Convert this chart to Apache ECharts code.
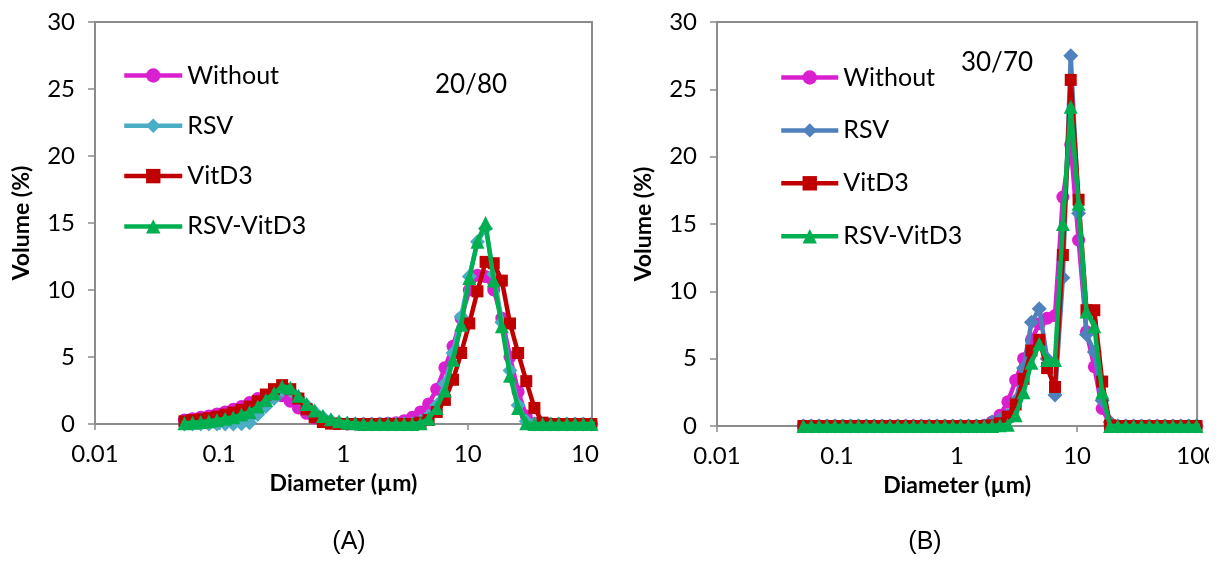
<!DOCTYPE html>
<html>
<head>
<meta charset="utf-8">
<script src="https://cdn.jsdelivr.net/npm/echarts@6/dist/echarts.min.js"></script>
<style>
html,body{margin:0;padding:0;background:#ffffff;}
#chart{width:1221px;height:562px;}
</style>
</head>
<body>
<div id="chart"></div>
<script>
// ---- data ----
const diameters = [0.05248,0.06101,0.07096,0.08252,0.09594,0.1116,0.1297,0.1509,0.1754,0.2040,
  0.2371,0.2758,0.3206,0.3728,0.4335,0.5042,0.5861,0.6817,0.7925,0.9215,
  1.0715,1.2460,1.4488,1.6847,1.9588,2.2777,2.6485,3.0796,3.5810,4.1640,
  4.8417,5.6300,6.5464,7.6119,8.8512,10.292,11.967,13.915,16.181,18.814,
  21.878,25.439,29.580,34.395,39.994,46.504,54.075,62.877,73.114,85.015,
  98.855,114.95];
const xTickLabels = ['0.01','0.1','1','10','100'];
const seriesNames = ['Without','RSV','VitD3','RSV-VitD3'];
const panelTitles = ['20/80','30/70'];
const captions = ['(A)','(B)'];

// Panel A (20/80)
const aWithout = [0.3,0.4,0.5,0.6,0.75,0.9,1.1,1.3,1.6,1.9,
  2.1,2.2,2.1,1.7,1.2,0.8,0.45,0.2,0.08,0.03,
  0,0,0,0,0.02,0.05,0.1,0.25,0.5,0.9,
  1.5,2.6,4.2,5.8,7.9,10.0,11.1,11.0,10.0,7.9,
  5.0,2.4,0.6,0.05,0,0,0,0,0,0,
  0,0];
const aRSV = [0,0,0,0,0,0,0,0.02,0.1,0.7,
  1.3,1.9,2.5,2.5,2.0,1.4,0.9,0.5,0.25,0.1,
  0.03,0,0,0,0,0,0,0,0,0.2,
  0.6,1.4,3.0,5.3,8.0,11.0,13.6,14.6,11.2,7.6,
  4.0,1.4,0.2,0,0,0,0,0,0,0,
  0,0];
const aVitD3 = [0.2,0.3,0.35,0.45,0.55,0.7,0.85,1.05,1.3,1.7,
  2.2,2.6,2.9,2.6,1.9,1.1,0.5,0.15,0.03,0,
  0,0,0,0,0,0,0,0,0,0.1,
  0.3,0.9,1.8,3.3,5.3,7.5,9.9,12.1,12.0,10.7,
  7.5,5.3,3.2,1.2,0.1,0,0,0,0,0,
  0,0];
const aRSVVitD3 = [0.05,0.1,0.15,0.2,0.3,0.4,0.5,0.7,0.9,1.3,
  1.8,2.3,2.8,2.7,2.1,1.5,1.0,0.6,0.35,0.2,
  0.1,0.05,0,0,0,0,0,0,0,0.05,
  0.4,1.2,2.5,4.8,7.4,10.9,13.6,15.0,10.7,7.3,
  3.6,1.2,0.05,0,0,0,0,0,0,0,
  0,0];

// Panel B (30/70)
const bWithout = [0,0,0,0,0,0,0,0,0,0,
  0,0,0,0,0,0,0,0,0,0,
  0,0,0,0.05,0.3,0.8,1.8,3.4,5.0,6.4,
  7.6,8.0,8.2,17.0,20.9,13.8,7.0,4.4,1.3,0.1,
  0,0,0,0,0,0,0,0,0,0,
  0,0];
const bRSV = [0,0,0,0,0,0,0,0,0,0,
  0,0,0,0,0,0,0,0,0,0,
  0,0,0,0,0.3,0.5,0.8,1.9,4.3,7.7,
  8.7,5.0,2.3,11.0,27.5,15.8,6.8,5.5,1.9,0.3,
  0,0,0,0,0,0,0,0,0,0,
  0,0];
const bVitD3 = [0,0,0,0,0,0,0,0,0,0,
  0,0,0,0,0,0,0,0,0,0,
  0,0,0,0,0.05,0.2,0.7,1.6,3.5,5.6,
  6.4,4.3,2.9,12.7,25.7,16.8,8.6,8.6,3.3,0.05,
  0,0,0,0,0,0,0,0,0,0,
  0,0];
const bRSVVitD3 = [0,0,0,0,0,0,0,0,0,0,
  0,0,0,0,0,0,0,0,0,0,
  0,0,0,0,0,0.05,0.1,0.8,2.5,4.7,
  6.1,4.9,4.9,15.0,23.7,16.5,8.5,7.4,2.5,0,
  0,0,0,0,0,0,0,0,0,0,
  0,0];

// ---- styling ----
const FONT = 'Lato, "Open Sans", sans-serif';
const AXIS_GRAY = '#8c8c8c';
const stylesA = [
  {color:'#DA1FD0', symbol:'circle',   size:13},
  {color:'#4BACC6', symbol:'diamond',  size:15},
  {color:'#C00000', symbol:'rect',     size:12},
  {color:'#00B050', symbol:'triangle', size:14}
];
const stylesB = [
  {color:'#DA1FD0', symbol:'circle',   size:13},
  {color:'#4F81BD', symbol:'diamond',  size:15},
  {color:'#C00000', symbol:'rect',     size:12},
  {color:'#00B050', symbol:'triangle', size:14}
];
const panelData = [
  [aWithout, aRSV, aVitD3, aRSVVitD3],
  [bWithout, bRSV, bVitD3, bRSVVitD3]
];
const panelStyles = [stylesA, stylesB];

const grids = [
  {left:95, top:22, width:497, height:402},
  {left:717, top:22, width:486, height:404}
];

function xLabel(v){
  const idx = Math.round(Math.log10(v)) + 2;
  return xTickLabels[idx] !== undefined ? xTickLabels[idx] : '';
}

const xAxes = grids.map((g,i)=>({
  type:'log', logBase:10, min:0.01, max:100, gridIndex:i,
  name:'Diameter (µm)', nameLocation:'middle', nameGap:48,
  nameTextStyle:{fontFamily:FONT, fontSize:23, fontWeight:'bold', color:'#000'},
  axisLine:{show:true, lineStyle:{color:AXIS_GRAY, width:2}},
  axisTick:{show:true, length:6, lineStyle:{color:AXIS_GRAY, width:1.5}},
  minorTick:{show:false},
  splitLine:{show:false},
  axisLabel:{fontFamily:FONT, fontSize:24, color:'#000', margin:18, formatter:xLabel, showMaxLabel:true, showMinLabel:true}
}));
const yAxes = grids.map((g,i)=>({
  type:'value', min:0, max:30, interval:5, gridIndex:i,
  name:'Volume (%)', nameLocation:'middle', nameGap:62, nameRotate:90,
  nameTextStyle:{fontFamily:FONT, fontSize:23, fontWeight:'bold', color:'#000'},
  axisLine:{show:true, lineStyle:{color:AXIS_GRAY, width:2}},
  axisTick:{show:true, length:7, lineStyle:{color:AXIS_GRAY, width:1.5}},
  splitLine:{show:false},
  axisLabel:{fontFamily:FONT, fontSize:24, color:'#000', margin:20}
}));

const series = [];
panelData.forEach((arrs,p)=>{
  arrs.forEach((arr,s)=>{
    const st = panelStyles[p][s];
    series.push({
      name: seriesNames[s], type:'line', xAxisIndex:p, yAxisIndex:p,
      data: diameters.map((d,i)=>[d, arr[i]]),
      symbol: st.symbol, symbolSize: st.size, showSymbol:true, showAllSymbol:true,
      clip:true, animation:false,
      itemStyle:{color:st.color},
      lineStyle:{color:st.color, width:4.5},
      z: 2 + s
    });
  });
});

const legends = [
  {left:122, top:63, itemGap:25.3, itemWidth:58},
  {left:779, top:65, itemGap:27.9, itemWidth:57}
].map((L,p)=>({
  orient:'vertical', left:L.left, top:L.top, itemGap:L.itemGap, padding:0,
  itemWidth:L.itemWidth, itemHeight:18, selectedMode:false,
  textStyle:{fontFamily:FONT, fontSize:25, color:'#000'},
  data: seriesNames.map((n,s)=>({
    name:n,
    itemStyle:{color:panelStyles[p][s].color},
    lineStyle:{color:panelStyles[p][s].color, width:4.5}
  }))
}));

const chart = echarts.init(document.getElementById('chart'), null, {renderer:'canvas'});
chart.setOption({
  backgroundColor:'#ffffff',
  animation:false,
  grid: grids.map(g=>Object.assign({show:true, borderColor:AXIS_GRAY, borderWidth:2, backgroundColor:'transparent'}, g)),
  xAxis:xAxes,
  yAxis:yAxes,
  legend:legends,
  series:series,
  graphic:[
    // the source panels are cropped at their right edge, cutting the last x label
    {type:'rect', shape:{x:599, y:436, width:14, height:36}, style:{fill:'#ffffff'}, z:100},
    {type:'rect', shape:{x:1209, y:436, width:14, height:36}, style:{fill:'#ffffff'}, z:100},
    {type:'text', x:471, y:85, style:{text:panelTitles[0], font:'26px '+FONT, fill:'#000', textAlign:'center', textVerticalAlign:'middle'}},
    {type:'text', x:997, y:63, style:{text:panelTitles[1], font:'26px '+FONT, fill:'#000', textAlign:'center', textVerticalAlign:'middle'}},
    {type:'text', x:349, y:542, style:{text:captions[0], font:'25px "Liberation Sans", Arial, sans-serif', fill:'#000', textAlign:'center', textVerticalAlign:'middle'}},
    {type:'text', x:925, y:542, style:{text:captions[1], font:'25px "Liberation Sans", Arial, sans-serif', fill:'#000', textAlign:'center', textVerticalAlign:'middle'}}
  ]
});
</script>
</body>
</html>
